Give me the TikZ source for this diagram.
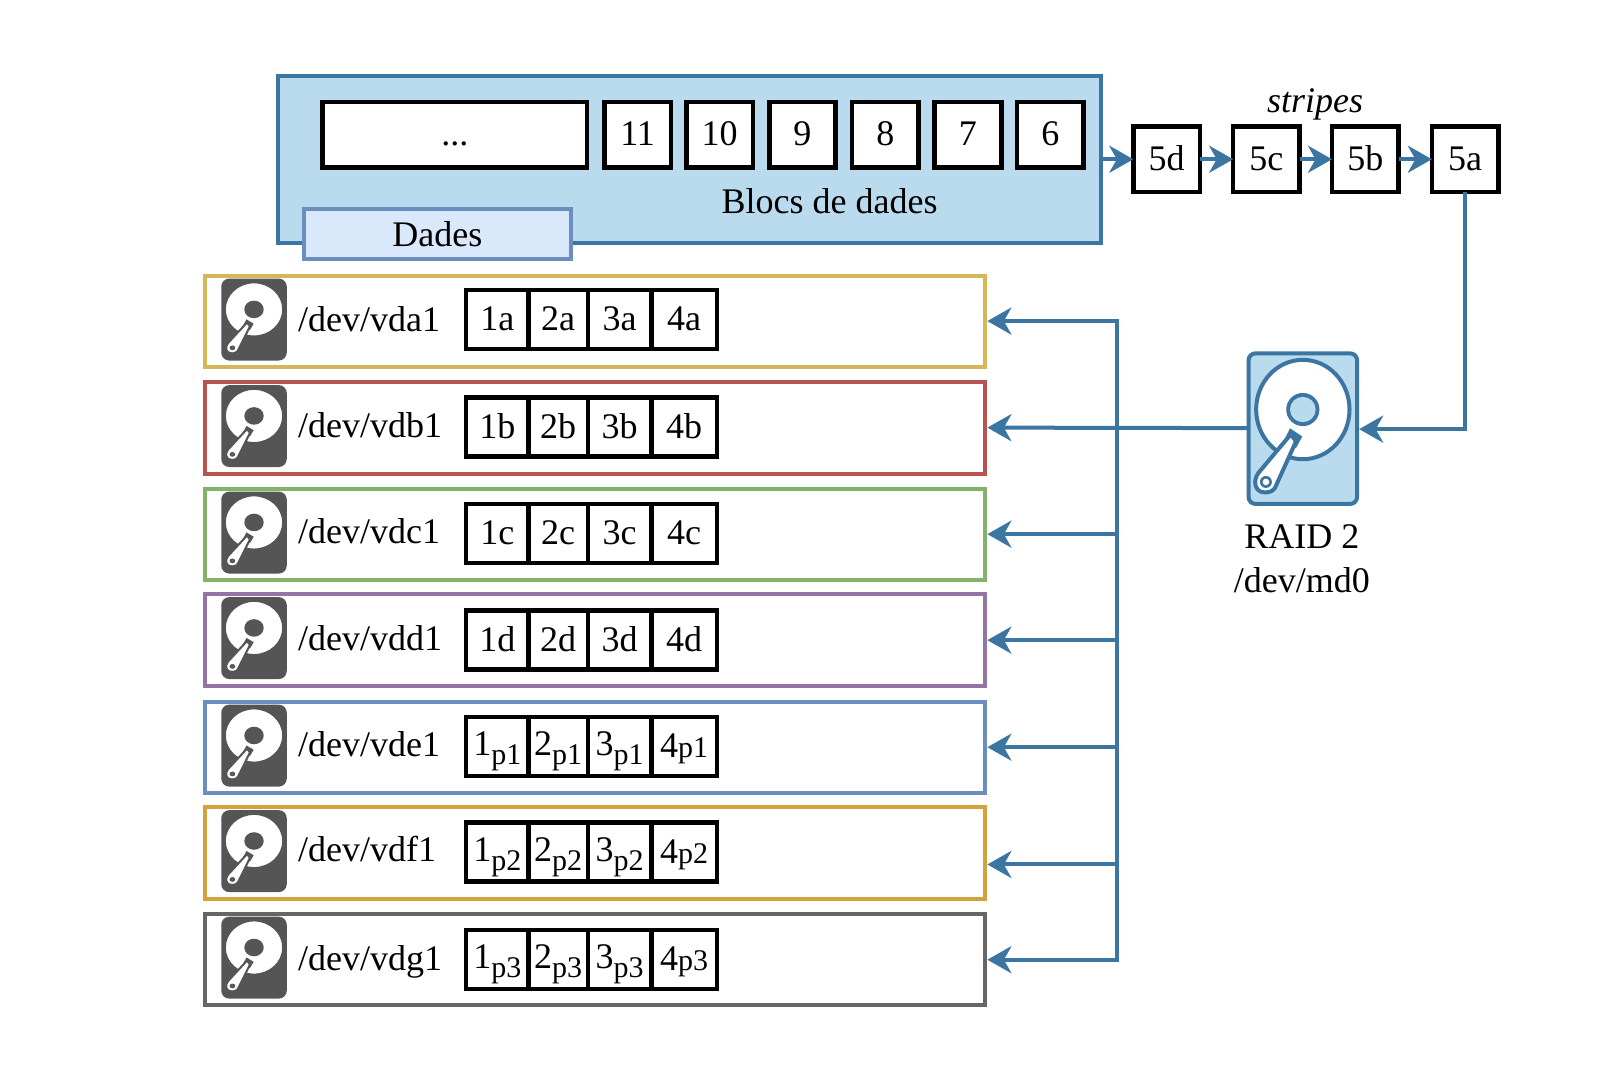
\documentclass[tikz,border=0pt]{standalone}
\usepackage{fontspec}
\setmainfont{Liberation Serif}
\usetikzlibrary{arrows.meta}
\definecolor{lblue}{HTML}{BADBEE}
\definecolor{sblue}{HTML}{3B75A1}
\definecolor{dfill}{HTML}{DAE8FC}
\definecolor{dline}{HTML}{6C8EBF}
\definecolor{hdd}{HTML}{555555}
\definecolor{cA}{HTML}{D6B656}
\definecolor{cB}{HTML}{B85450}
\definecolor{cC}{HTML}{82B366}
\definecolor{cD}{HTML}{9673A6}
\definecolor{cE}{HTML}{6C8EBF}
\definecolor{cF}{HTML}{D3A23A}
\definecolor{cG}{HTML}{666666}
\def\uu{1.0242pt}
\def\fs{\fontsize{36}{40}\selectfont}
\tikzset{
  x=1.0242pt,y=-1.0242pt,
  txt/.style={inner sep=0pt,outer sep=0pt,font=\fs,align=center},
  cell/.style={draw=black,fill=white,line width=4.6pt,inner sep=0pt,outer sep=0pt,anchor=north west,font=\fs,text height=25pt,text depth=2.4pt},
  rowbox/.style={draw=#1,fill=white,line width=4pt,inner sep=0pt,outer sep=0pt,anchor=north west,minimum width=762*\uu,minimum height=89.5*\uu},
  flow/.style={draw=sblue,line width=4pt},
  tip/.style={flow,-{Stealth[length=24pt,width=27pt,inset=7.5pt]}},
}
% icon: x y w h body stroke disk strokewidth extra
\newcommand\hddicon[9]{%
  \begin{scope}[shift={(#1,#2)},x=#3*\uu,y=-#4*\uu]
    \draw[draw=#6,fill=#5,line width=#8,rounded corners=7pt] (0,0) rectangle (1,1);
    \draw[draw=#6,fill=#7,line width=#8] (.50,.373) ellipse [x radius=.43+#9,y radius=.33+#9*.3];
    \fill[#6] (.50,.373) ellipse [x radius=.153,y radius=.11];
    \fill[#5] (.50,.373) ellipse [x radius=.118,y radius=.084];
    \fill[#6] (.382,.498) -- (.495,.552) -- (.437,.629) -- (.306,.607) -- cycle;
    \draw[draw=#6,fill=#7,line width=#8,line join=round] (.39,.537) -- (.092,.793) .. controls (.04,.84) and (.05,.924) .. (.153,.924) .. controls (.2,.924) and (.23,.91) .. (.245,.891) -- (.437,.585) -- cycle;
    \fill[#6] (.16,.854) ellipse [x radius=.055-#9/3,y radius=.04-#9/3];
    \fill[#7] (.16,.854) ellipse [x radius=.03-#9,y radius=.022-#9];
  \end{scope}}
% row: id top colour label cell-top label-baseline, then the cells via \cells
\newcommand\hddrow[6]{%
  \node[rowbox=#3] (row#1) at (200,#2) {};
  \hddicon{217}{#2+4}{62}{78}{hdd}{hdd}{white}{2pt}{.03}
  \node[txt,anchor=base west] (lab#1) at (291,#6) {#4};
  \def\rowid{#1}\def\celly{#5}}
\newcommand\cells[4]{%
  \node[cell,minimum width=61*\uu,minimum height=57.5*\uu] (c\rowid a) at (455,\celly) {#1};
  \node[cell,minimum width=58*\uu,minimum height=57.5*\uu] (c\rowid b) at (516,\celly) {#2};
  \node[cell,minimum width=62*\uu,minimum height=57.5*\uu] (c\rowid c) at (574,\celly) {#3};
  \node[cell,minimum width=64*\uu,minimum height=57.5*\uu] (c\rowid d) at (636,\celly) {#4};}
\newcommand\subp[2]{\raisebox{.06em}{#1}\raisebox{-.2em}{\fontsize{30}{32}\selectfont p#2}}
\newcommand\subq[2]{#1{\fontsize{30}{32}\selectfont p#2}}
\begin{document}
\begin{tikzpicture}
\useasboundingbox (0,0) rectangle (1568,1048.6);
\fill[white] (0,0) rectangle (1568,1048.6);
% data block
\node[draw=sblue,fill=lblue,line width=4pt,inner sep=0pt,outer sep=0pt,anchor=north west,minimum width=804*\uu,minimum height=163*\uu] (data) at (271,74) {};
\node[cell,minimum width=258*\uu,minimum height=64*\uu] (more) at (315,99.5) {...};
\foreach \n/\xx in {11/590,10/670,9/751,8/832,7/912.5,6/993}
  \node[cell,minimum width=65*\uu,minimum height=64*\uu] (b\n) at (\xx,99.5) {\n};
\node[txt] (blocs) at (810,196.5) {Blocs de dades};
\node[draw=dline,fill=dfill,line width=4pt,inner sep=0pt,outer sep=0pt,anchor=north west,minimum width=260*\uu,minimum height=49*\uu,font=\fs] (dades) at (297,204) {Dades};
% stripes
\foreach \n/\xx in {5d/1106.5,5c/1204,5b/1300.5,5a/1398}
  \node[cell,minimum width=65*\uu,minimum height=64*\uu] (s\n) at (\xx,123.5) {\n};
\node[txt,font=\fs\itshape] (stripes) at (1284,102) {stripes};
\draw[tip] (data.east |- s5d.west) -- (s5d.west);
\draw[tip] (s5d) -- (s5c);
\draw[tip] (s5c) -- (s5b);
\draw[tip] (s5b) -- (s5a);
% rows
\hddrow{a}{269}{cA}{/dev/vda1}{283.2}{323.5}\cells{1a}{2a}{3a}{4a}
\hddrow{b}{373}{cB}{/dev/vdb1}{388}{427.5}\cells{1b}{2b}{3b}{4b}
\hddrow{c}{477}{cC}{/dev/vdc1}{492}{530.5}\cells{1c}{2c}{3c}{4c}
\hddrow{d}{580}{cD}{/dev/vdd1}{596}{635.5}\cells{1d}{2d}{3d}{4d}
\hddrow{e}{685}{cE}{/dev/vde1}{700}{738.5}\cells{\subp{1}{1}}{\subp{2}{1}}{\subp{3}{1}}{\subq{4}{1}}
\hddrow{f}{788}{cF}{/dev/vdf1}{803}{841.5}\cells{\subp{1}{2}}{\subp{2}{2}}{\subp{3}{2}}{\subq{4}{2}}
\hddrow{g}{892}{cG}{/dev/vdg1}{908}{947.5}\cells{\subp{1}{3}}{\subp{2}{3}}{\subp{3}{3}}{\subq{4}{3}}
% raid disk
\node[inner sep=0pt,outer sep=0pt,anchor=north west,minimum width=106*\uu,minimum height=147*\uu] (raid) at (1219,345) {};
\hddicon{1219}{345}{106}{147}{lblue}{sblue}{white}{4pt}{0}
\node[txt] (raidname) at (1271,524) {RAID 2};
\node[txt] (raiddev) at (1271,566) {/dev/md0};
% connector ends
\coordinate (in) at (1327,419);
\coordinate (out) at (1219,418);
\coordinate (ea) at (964,313.5);
\coordinate (eb) at (964,417.5);
\coordinate (ec) at (964,521.5);
\coordinate (ed) at (964,625);
\coordinate (ee) at (964,729.5);
\coordinate (ef) at (964,844);
\coordinate (eg) at (964,937);
\coordinate (busa) at (1091,313.5);
\coordinate (busc) at (1091,521.5);
\coordinate (busd) at (1091,625);
\coordinate (buse) at (1091,729.5);
\coordinate (busf) at (1091,844);
\coordinate (busg) at (1091,937);
\draw[tip] (s5a.south) |- (in);
\draw[tip] (out) -- (eb);
\draw[tip] (busc) -- (ec);
\draw[tip] (busd) -- (ed);
\draw[tip] (buse) -- (ee);
\draw[tip] (busf) -- (ef);
\draw[tip] (busa) -- (ea);
\draw[tip] (busg) -- (eg);
\draw[flow,line cap=rect] (busa) -- (busg);
\end{tikzpicture}
\end{document}
